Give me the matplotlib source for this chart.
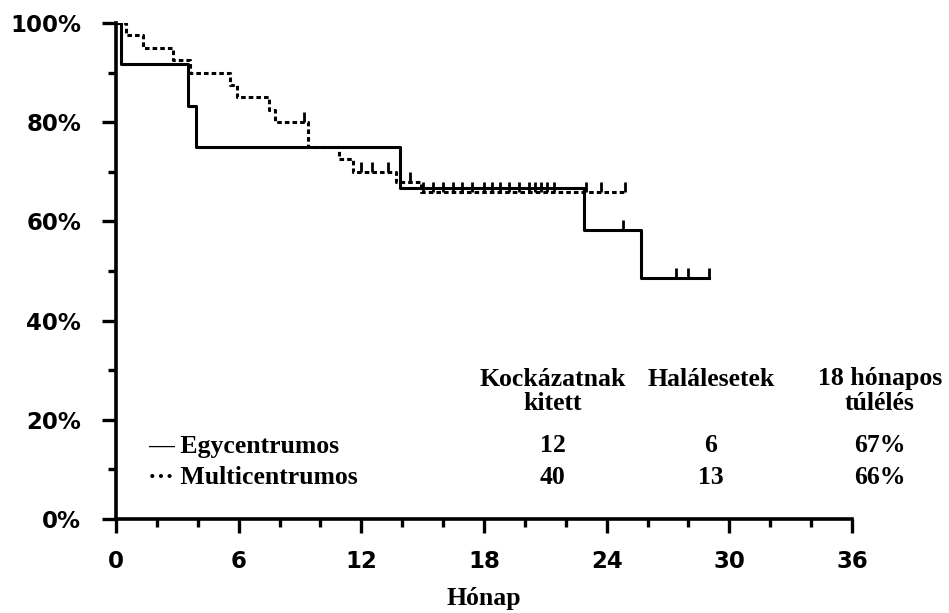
import matplotlib
matplotlib.use('Agg')
import matplotlib.pyplot as plt
import numpy as np

# Kaplan-Meier steps (months, survival %)
egy_times = [0, 0.25, 3.5, 3.9, 13.9, 22.9, 25.7]
egy_surv = [100, 91.7, 83.3, 75.0, 66.7, 58.3, 48.6]
egy_end = 29.0
egy_cens = [24.8, 27.4, 28.0, 29.0]

multi_times = [0, 0.5, 1.3, 2.8, 3.6, 5.6, 5.9, 7.5, 7.8, 9.4, 10.9, 11.6, 13.7, 14.9]
multi_surv = [100, 97.5, 95.0, 92.5, 90.0, 87.5, 85.0, 82.5, 80.0, 75.0, 72.5, 70.0, 68.0, 66.0]
multi_end = 24.9
multi_cens = [9.2, 12.0, 12.5, 13.3, 14.4, 15.0, 15.5, 16.0, 16.5, 16.9, 17.4, 18.0, 18.4,
              18.8, 19.2, 19.7, 20.2, 20.5, 20.8, 21.1, 21.4, 23.0, 23.7, 24.9]

col_headers = [('Kockázatnak', 'kitett'), ('Halálesetek', ''), ('18 hónapos', 'túlélés')]
groups = ['\u2014 Egycentrumos', '\u00b7\u00b7\u00b7 Multicentrumos']
at_risk = [12, 40]
deaths = [6, 13]
surv18 = ['67%', '66%']

W, H = 949, 613
fig = plt.figure(figsize=(W / 100, H / 100), dpi=100)
ax = fig.add_axes([116 / W, 1 - 519 / H, (852 - 116) / W, (519 - 23) / H])


def level(times, surv, t):
    i = np.searchsorted(times, t, side='right') - 1
    return surv[i]


for times, surv, end, cens, ls in [
        (egy_times, egy_surv, egy_end, egy_cens, '-'),
        (multi_times, multi_surv, multi_end, multi_cens, (0, (1.5, 1.0)))]:
    ax.step(times + [end], surv + [surv[-1]], where='post', color='black', lw=2.2, ls=ls)
    ax.plot(cens, [level(times, surv, t) for t in cens], ls='none', marker=2,
            markersize=7, mew=2, color='black')

ax.set_xlim(0, 36)
ax.set_ylim(0, 100)
ax.set_xticks(np.arange(0, 37, 6))
ax.set_xticks(np.arange(0, 37, 2), minor=True)
ax.set_yticks(np.arange(0, 101, 20))
ax.set_yticks(np.arange(0, 101, 10), minor=True)
ax.set_yticklabels([f'{v}%' for v in range(0, 101, 20)])

for s in ['top', 'right']:
    ax.spines[s].set_visible(False)
for s in ['left', 'bottom']:
    ax.spines[s].set_linewidth(2.6)

ax.tick_params(axis='both', which='major', length=10, width=2.4)
ax.tick_params(axis='both', which='minor', length=6, width=2.4)
ax.tick_params(axis='x', which='major', pad=12)
ax.tick_params(axis='y', which='major', pad=15)
for lab in ax.get_xticklabels() + ax.get_yticklabels():
    lab.set_fontfamily('DejaVu Sans')
    lab.set_fontweight('heavy')
    lab.set_fontsize(16.5)

serif = dict(family='Liberation Serif', weight='bold', fontsize=18.5)


def px(x, y):
    return x / W, 1 - y / H


col_x = [553, 711, 880]
for cx, (h1, h2) in zip(col_x, col_headers):
    fig.text(*px(cx, 379), h1, ha='center', va='center', **serif)
    if h2:
        fig.text(*px(cx, 404), h2, ha='center', va='center', **serif)

row_y = [446, 478]
for ry, g, n, d, s in zip(row_y, groups, at_risk, deaths, surv18):
    fig.text(*px(148, ry), g, ha='left', va='center', **serif)
    fig.text(*px(col_x[0], ry), str(n), ha='center', va='center', **serif)
    fig.text(*px(col_x[1], ry), str(d), ha='center', va='center', **serif)
    fig.text(*px(col_x[2], ry), s, ha='center', va='center', **serif)

fig.text(*px(484, 599), 'Hónap', ha='center', va='center', **serif)

fig.savefig('out.png', dpi=100)
